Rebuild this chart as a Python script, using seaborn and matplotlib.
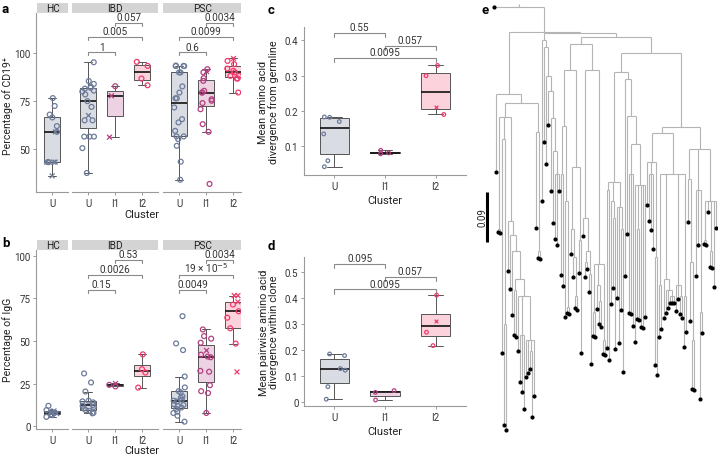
import numpy as np
import pandas as pd
import matplotlib
matplotlib.use("Agg")
import matplotlib.pyplot as plt
from matplotlib.collections import LineCollection
import seaborn as sns

W, H = 718, 456
CLUSTERS = ["U", "I1", "I2"]
POINT = {"U": "#6d7b9a", "I1": "#b3407f", "I2": "#f23b6c"}
FILL = {"U": "#d9dce3", "I1": "#ecd2e2", "I2": "#fcd3dc"}

# ---- panel a: percentage of CD19+ ----
a_HC_U = [76.6, 72.5, 68.0, 66.5, 62.0, 59.0, 59.0, 43.2, 43.2, 43.2, 43.2, 43.2, 36.0]
a_HC_U_shape = "ooooooxxooxxx"
a_IBD_U = [95.3, 85.5, 84.0, 82.5, 82.0, 81.5, 80.5, 80.0, 78.5, 75.0, 72.0, 68.0,
           65.0, 65.0, 56.5, 56.5, 56.5, 50.5, 37.5]
a_IBD_U_shape = "oooooooooooxooooooo"
a_IBD_I1 = [82.8, 77.8, 56.2]
a_IBD_I1_shape = "oxx"
a_IBD_I2 = [95.5, 93.4, 86.8, 83.3]
a_IBD_I2_shape = "oooo"
a_PSC_U = [93.6, 93.4, 93.3, 93.3, 90.0, 90.0, 82.7, 79.5, 76.5, 76.5, 71.7, 65.6,
           63.9, 59.5, 56.6, 56.6, 55.2, 51.7, 43.4, 34.0]
a_PSC_U_shape = "oooooooooooooooooooo"
a_PSC_I1 = [91.7, 90.8, 90.0, 87.0, 85.6, 80.4, 79.5, 79.5, 76.0, 75.2, 74.0, 70.8,
            63.0, 59.0, 31.8]
a_PSC_I1_shape = "oxooooooooooooo"
a_PSC_I2 = [97.7, 96.0, 94.3, 92.0, 90.8, 90.0, 88.2, 88.2, 86.8, 86.8, 79.5]
a_PSC_I2_shape = "xoooooooooo"
a_pvals = {"IBD": ["1", "0.005", "0.057"], "PSC": ["0.6", "0.0099", "0.0034"]}

# ---- panel b: percentage of IgG ----
b_HC_U = [12.0, 9.5, 9.0, 8.5, 8.0, 8.0, 7.5, 7.0, 6.5, 5.5]
b_HC_U_shape = "ooxoxoxooo"
b_IBD_U = [31.0, 25.7, 20.4, 15.0, 14.6, 14.0, 12.5, 12.0, 11.3, 10.5, 9.5, 9.0, 7.9, 7.6]
b_IBD_U_shape = "oooooooooooooo"
b_IBD_I1 = [25.2, 24.3, 23.4]
b_IBD_I1_shape = "xoo"
b_IBD_I2 = [42.2, 33.5, 31.5, 22.7]
b_IBD_I2_shape = "oooo"
b_PSC_U = [64.6, 48.6, 44.7, 29.2, 22.8, 20.6, 19.9, 17.5, 16.7, 15.6, 15.0, 14.5,
           13.0, 12.5, 12.0, 11.0, 10.1, 8.5, 7.8, 6.2, 2.7]
b_PSC_U_shape = "ooooooooooooooooooooo"
b_PSC_I1 = [56.8, 52.9, 51.4, 49.0, 44.7, 42.0, 40.9, 40.5, 32.5, 32.0, 24.1, 20.6, 19.5, 7.8]
b_PSC_I1_shape = "ooooxooooooooo"
b_PSC_I2 = [76.7, 76.7, 73.0, 71.4, 67.5, 63.7, 57.5, 48.5, 31.9]
b_PSC_I2_shape = "xxxooooox"
b_pvals = {"IBD": ["0.15", "0.0026", "0.53"],
           "PSC": ["0.0049", "19 × 10$^{-5}$", "0.0034"]}

# ---- panel c / d: amino acid divergence ----
c_U = [0.183, 0.182, 0.170, 0.135, 0.059, 0.042]
c_I1 = [0.0785, 0.081, 0.0885]
c_I2 = [0.329, 0.300, 0.210, 0.190]
c_I2_shape = "ooxo"
c_pvals = ["0.0095", "0.057", "0.55"]
d_U = [0.185, 0.179, 0.129, 0.123, 0.060, 0.012]
d_I1 = [0.045, 0.038, 0.009]
d_I2 = [0.410, 0.313, 0.268, 0.217]
d_I2_shape = "oxoo"
d_pvals = ["0.0095", "0.057", "0.095"]

# ---- panel e: lineage tree, node = [depth, children...], leaf = depth ----
TREE_B = [0.157, 0.297,
          [0.173,
           [0.198,
            [0.400, 0.405, 0.407],
            [0.238, 0.623, [0.57, 0.752, 0.761]],
            [0.385, 0.475, [0.41, 0.508, [0.44, 0.554,
                [0.49, [0.51, 0.59, 0.594],
                 [0.52, 0.619, [0.59, 0.675, 0.693, 0.724],
                  [0.60, 0.666, 0.659, [0.62, 0.652, 0.738], 0.70]]]]]]],
           [0.225, 0.398, [0.44, 0.452, 0.454]]]]
TREE_C = [0.059, 0.349, [0.072, 0.243, [0.124, 0.283, [0.151, 0.212,
          [0.20, 0.331, [0.26, 0.389, [0.30, 0.418, 0.428, 0.331]]]]]]]
TREE_E = [0.067,
          [0.113,
           [0.214, [0.30, 0.482, 0.502], [0.35, 0.558, [0.54, 0.551, 0.553]]],
           [0.288, [0.40, 0.445, [0.45, 0.486, [0.52, 0.542, 0.545]]], [0.42, 0.479, 0.623]]],
          [0.113,
           [0.38, 0.412, [0.44, [0.46, 0.486, 0.472], [0.48, 0.513, 0.643]]],
           [0.463, [0.55, 0.592, 0.594], [0.50, 0.544, [0.53, 0.571, 0.576]], [0.60, 0.625, 0.627]]]]
TREE_F1 = [0.117,
           [0.315, [0.33, 0.614, 0.635], [0.35, 0.535, [0.38, 0.506, 0.616]],
            [0.36, 0.524, 0.605, [0.40, 0.545, 0.657]]],
           [0.130, 0.484,
            [0.196, 0.409,
             [0.247, [0.30, 0.551, 0.553, 0.574],
              [0.32, 0.603, [0.40, 0.562, 0.564], 0.576, 0.578, 0.558]]]]]
TREE_F2 = [0.216,
           [0.227,
            [0.279, 0.356, [0.30, 0.385, 0.401, 0.436], [0.45, 0.644, 0.662]],
            [0.30, [0.50, 0.594, 0.580],
             [0.49, 0.560, [0.51, 0.551, 0.542, [0.52, 0.533, 0.533, 0.533]]],
             [0.50, 0.547, 0.526, [0.52, 0.553, 0.560]], [0.52, 0.612, 0.585]]],
           [0.256,
            [0.31, 0.387, [0.46, 0.565, [0.60, 0.688, 0.690]]],
            [0.33, 0.484, 0.428, [0.55, 0.706, 0.587]],
            [0.35, [0.42, 0.427, 0.429], 0.369, [0.44, 0.468, 0.470], 0.504, 0.398]]]
TREE = [0.0, 0.0, [0.045, TREE_B, [0.047, TREE_C, [0.054, TREE_E, [0.083, TREE_F1, TREE_F2]]]]]
SCALE_BAR = 0.09

sns.set_theme(style="white")
plt.rcParams["font.family"] = ["Roboto", "DejaVu Sans"]

fig = plt.figure(figsize=(W / 100, H / 100), dpi=100)


def px_axes(x0, y0, x1, y1):
    return fig.add_axes([x0 / W, 1 - y1 / H, (x1 - x0) / W, (y1 - y0) / H])


def frame(groups):
    rows = []
    for facet, cluster, vals, shapes in groups:
        for v, s in zip(vals, shapes):
            rows.append((facet, cluster, v, s))
    return pd.DataFrame(rows, columns=["facet", "cluster", "value", "shape"])


def style_ax(ax, left=True):
    for side in ("top", "right"):
        ax.spines[side].set_visible(False)
    ax.spines["left"].set_visible(left)
    for side in ("left", "bottom"):
        ax.spines[side].set_color("#9a9a9a")
        ax.spines[side].set_linewidth(0.8)
    ax.tick_params(length=2.5, width=0.6, color="#8a8a8a", labelcolor="#333333",
                   labelsize=7, pad=1.5, left=left, bottom=True)
    if not left:
        ax.set_yticklabels([])
    ax.set_xlabel("")
    ax.set_ylabel("")
    ax.set_facecolor("none")


def draw_box(ax, df, order, size, seed):
    sns.boxplot(data=df, x="cluster", y="value", hue="cluster", order=order,
                hue_order=order, palette=FILL, saturation=1, width=0.58,
                showfliers=False, linewidth=0.7, linecolor="#555555",
                medianprops=dict(color="#111111", linewidth=1.2), legend=False, ax=ax)
    for shape in ("o", "x"):
        sub = df[df["shape"] == shape]
        if sub.empty:
            continue
        n0 = len(ax.collections)
        np.random.seed(seed)
        sns.stripplot(data=sub, x="cluster", y="value", hue="cluster", order=order,
                      hue_order=order, palette=POINT, marker=shape, size=size,
                      jitter=0.22, linewidth=0.9, legend=False, ax=ax)
        for coll in ax.collections[n0:]:
            fc = coll.get_facecolors()
            coll.set_edgecolors(fc)
            coll.set_linewidths(0.9)
            if shape == "o":
                coll.set_facecolors("none")
        seed += 7


def brackets(ax, pairs, labels, levels, drop):
    for (i, j), lab, lev in zip(pairs, labels, levels):
        ax.plot([i, i, j, j], [lev - drop, lev, lev, lev - drop], color="#8a8a8a",
                lw=0.8, clip_on=False)
        ax.text((i + j) / 2, lev + drop * 0.15, lab, ha="center", va="bottom",
                fontsize=7.2, color="#333333", clip_on=False)


FACETS = [("HC", 36, 68.4, (-0.6, 0.6)),
          ("IBD", 72, 158.4, (-0.6, 2.6)),
          ("PSC", 163, 241.3, (-0.6, 2.3))]
PAIRS_AB = [(0, 1), (0, 2), (1, 2)]


def facet_panel(df, top, bottom, ylim, yticks, levels, pvals, drop, seed):
    for k, (facet, x0, x1, xlim) in enumerate(FACETS):
        ax = px_axes(x0, top, x1, bottom)
        order = ["U"] if facet == "HC" else CLUSTERS
        draw_box(ax, df[df["facet"] == facet], order, 3.5, seed + k)
        ax.set_xlim(*xlim)
        ax.set_ylim(*ylim)
        ax.set_yticks(yticks)
        style_ax(ax, left=(k == 0))
        if facet != "HC":
            brackets(ax, PAIRS_AB, pvals[facet], levels, drop)
        strip = px_axes(x0 + (1 if k == 0 else 0), top - 10, x1, top)
        strip.set_facecolor("#d4d4d4")
        strip.set_xticks([])
        strip.set_yticks([])
        for s in strip.spines.values():
            s.set_visible(False)
        strip.text(0.5, 0.45, facet, ha="center", va="center", fontsize=7.3,
                   color="#222222", transform=strip.transAxes)


df_a = frame([("HC", "U", a_HC_U, a_HC_U_shape), ("IBD", "U", a_IBD_U, a_IBD_U_shape),
              ("IBD", "I1", a_IBD_I1, a_IBD_I1_shape), ("IBD", "I2", a_IBD_I2, a_IBD_I2_shape),
              ("PSC", "U", a_PSC_U, a_PSC_U_shape), ("PSC", "I1", a_PSC_I1, a_PSC_I1_shape),
              ("PSC", "I2", a_PSC_I2, a_PSC_I2_shape)])
df_b = frame([("HC", "U", b_HC_U, b_HC_U_shape), ("IBD", "U", b_IBD_U, b_IBD_U_shape),
              ("IBD", "I1", b_IBD_I1, b_IBD_I1_shape), ("IBD", "I2", b_IBD_I2, b_IBD_I2_shape),
              ("PSC", "U", b_PSC_U, b_PSC_U_shape), ("PSC", "I1", b_PSC_I1, b_PSC_I1_shape),
              ("PSC", "I2", b_PSC_I2, b_PSC_I2_shape)])

facet_panel(df_a, 14, 193, (27.6, 121), [50, 75, 100], [100.5, 108.5, 116.0],
            a_pvals, 1.6, 3)
facet_panel(df_b, 250.7, 430, (-1.6, 103.6), [0, 25, 50, 75, 100], [80.2, 88.8, 97.6],
            b_pvals, 1.8, 11)

fig.text(8 / W, 1 - 106 / H, "Percentage of CD19⁺", rotation=90, ha="center",
         va="center", fontsize=7.6, color="#222222",
         family=["Roboto", "DejaVu Sans"])
fig.text(8 / W, 1 - 340 / H, "Percentage of IgG", rotation=90, ha="center",
         va="center", fontsize=7.6, color="#222222")
fig.text(142 / W, 1 - 215 / H, "Cluster", ha="center", va="center", fontsize=8,
         color="#222222")
fig.text(142 / W, 1 - 451 / H, "Cluster", ha="center", va="center", fontsize=8,
         color="#222222")

# ---- panels c and d ----
df_c = frame([("", "U", c_U, "o" * len(c_U)), ("", "I1", c_I1, "o" * len(c_I1)),
              ("", "I2", c_I2, c_I2_shape)])
df_d = frame([("", "U", d_U, "o" * len(d_U)), ("", "I1", d_I1, "o" * len(d_I1)),
              ("", "I2", d_I2, d_I2_shape)])
PAIRS_CD = [(0, 2), (1, 2), (0, 1)]

for df, box, ylim, yticks, levels, pvals, ylab, seed in [
        (df_c, (304, 28, 466, 176), (0.0185, 0.438), [0.1, 0.2, 0.3, 0.4],
         [0.35, 0.384, 0.421], c_pvals, "Mean amino acid\ndivergence from germline", 21),
        (df_d, (304, 258, 466, 407), (-0.014, 0.556), [0, 0.1, 0.2, 0.3, 0.4, 0.5],
         [0.432, 0.48, 0.531], d_pvals, "Mean pairwise amino acid\ndivergence within clone", 31)]:
    ax = px_axes(*box)
    draw_box(ax, df, CLUSTERS, 2.6, seed)
    ax.set_xlim(-0.6, 2.6)
    ax.set_ylim(*ylim)
    ax.set_yticks(yticks)
    ax.set_yticklabels([f"{t:g}" for t in yticks])
    style_ax(ax)
    ax.set_xlabel("Cluster", fontsize=8, color="#222222", labelpad=3)
    ax.set_ylabel(ylab, fontsize=7.8, color="#222222", linespacing=1.05, labelpad=4)
    brackets(ax, PAIRS_CD, pvals, levels, (ylim[1] - ylim[0]) * 0.028)

# ---- panel e: tree ----
leaf_x, leaf_d, segs = [], [], []


def layout(node):
    if not isinstance(node, list):
        leaf_x.append(len(leaf_x))
        leaf_d.append(node)
        return leaf_x[-1], node
    depth = node[0]
    xs = []
    for child in node[1:]:
        cx, cd = layout(child)
        segs.append([(cx, depth), (cx, cd)])
        xs.append(cx)
    segs.append([(xs[0], depth), (xs[-1], depth)])
    return (xs[0] + xs[-1]) / 2, depth


root_x, root_d = layout(TREE)
segs.append([(root_x, root_d), (root_x, root_d - 0.005)])

ax_e = px_axes(480, 4, 718, 440)
ax_e.add_collection(LineCollection(segs, colors="#b4b4b4", linewidths=0.8))
sns.scatterplot(x=leaf_x, y=leaf_d, color="black", s=9, linewidth=0, ax=ax_e, zorder=3)
n_leaf = len(leaf_x)
ax_e.set_xlim(-6.94 * n_leaf / 111, n_leaf + 0.0)
ax_e.set_ylim(0.778, -0.0072)
bar_x = -3.47 * n_leaf / 111
ax_e.plot([bar_x, bar_x], [0.333, 0.333 + SCALE_BAR], color="black", lw=2.2,
          solid_capstyle="butt")
ax_e.text(bar_x - 2.0, 0.333 + SCALE_BAR / 2, f"{SCALE_BAR:g}", rotation=90,
          ha="center", va="center", fontsize=7, color="#222222")
ax_e.axis("off")

# ---- panel letters ----
for lab, x, y in [("a", 2, 3), ("b", 2, 237), ("c", 268, 4), ("d", 268, 240), ("e", 482, 4)]:
    fig.text(x / W, 1 - y / H, lab, fontsize=9.5, fontweight="bold", ha="left", va="top",
             color="black")

fig.savefig("out.png", dpi=100)
